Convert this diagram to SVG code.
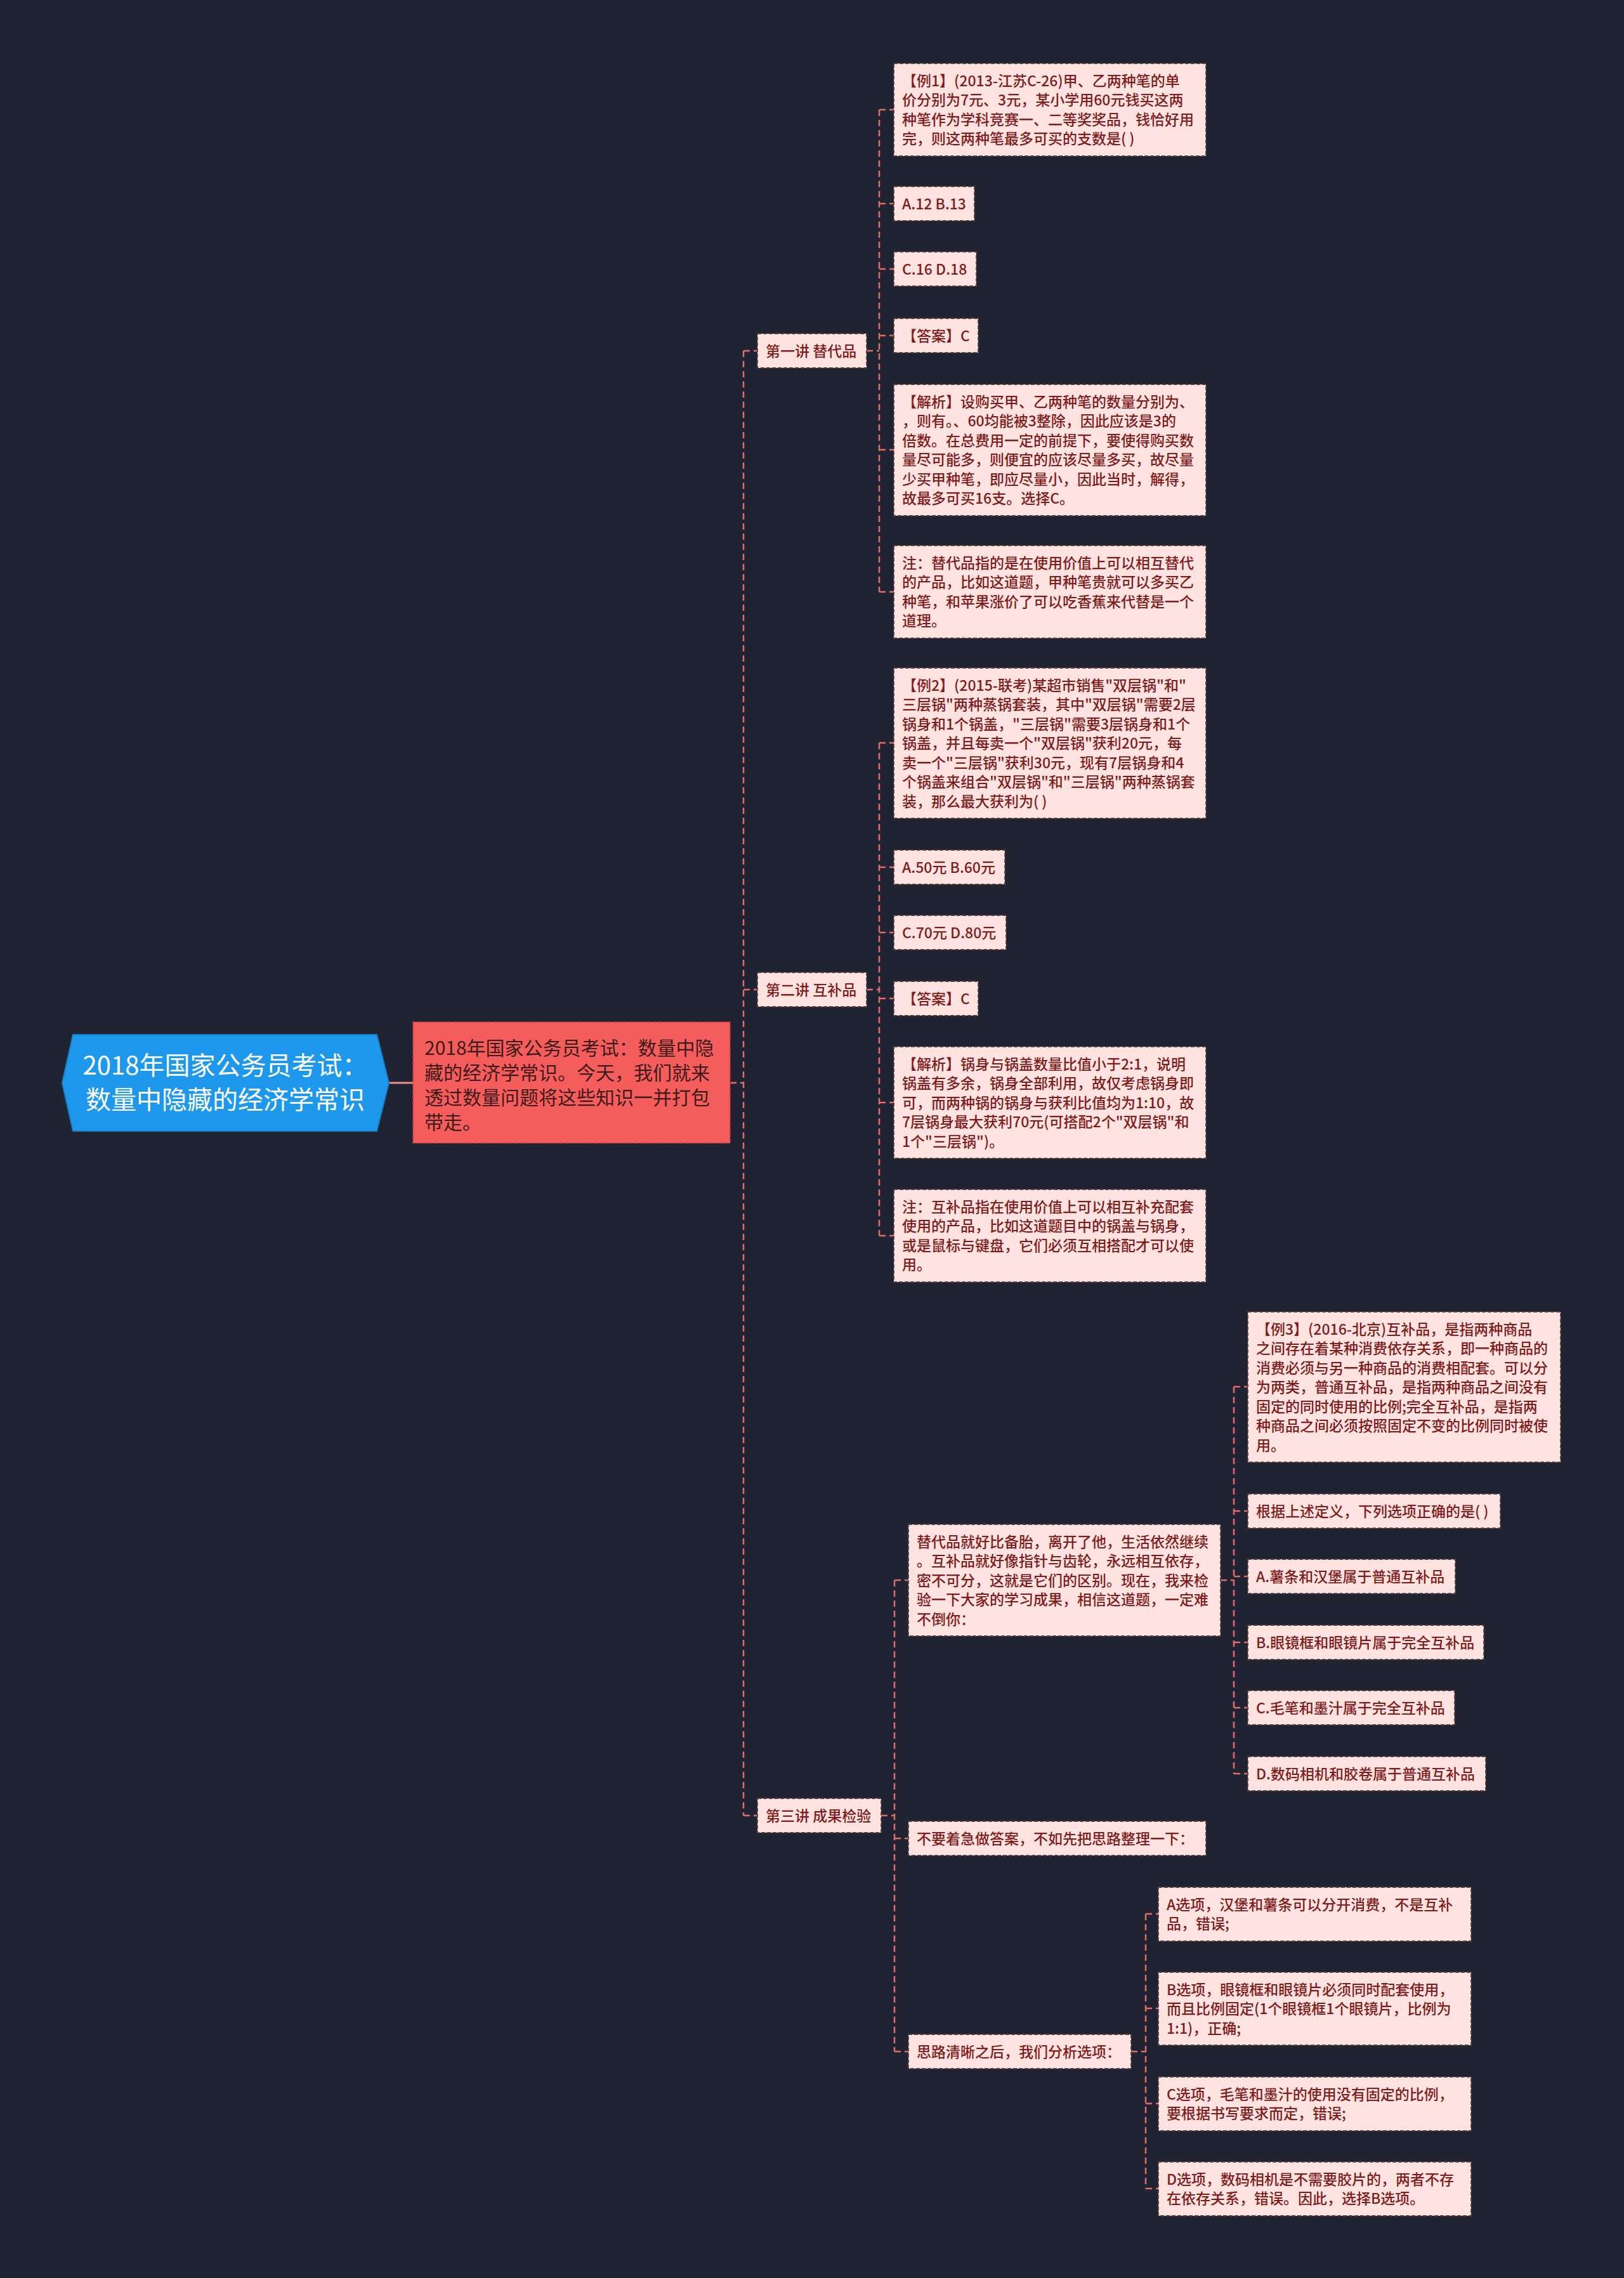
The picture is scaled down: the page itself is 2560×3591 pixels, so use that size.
<svg xmlns="http://www.w3.org/2000/svg" width="2560" height="3591" viewBox="0 0 2560 3591">
<style>
.bg{fill:#202331}
.n rect{fill:#ffe3e1;stroke:#5a3f3f;stroke-width:1.8;stroke-dasharray:6 3}
.n text,.sec text{font-family:"Noto Sans CJK SC","Noto Sans",sans-serif;font-size:23px;font-weight:500;fill:#7f1b1b}
.sec rect{fill:#ffe3e1;stroke:#5a3f3f;stroke-width:1.8;stroke-dasharray:6 3}
.c{fill:none;stroke:#e06c6c;stroke-width:2.5;stroke-dasharray:10 6}
</style>
<rect class="bg" x="0" y="0" width="2560" height="3591"/>

<g id="connectors">
  <line x1="613" y1="1707" x2="651" y2="1707" stroke="#f08a8a" stroke-width="3"/>
  <path class="c" d="M1151,1707 H1172 M1172,553 V2862 M1172,553 H1194 M1172,1560 H1194 M1172,2862 H1194"/>
  <path class="c" d="M1366,553 H1386 M1386,173 V933 M1386,173 H1409 M1386,321 H1409 M1386,424 H1409 M1386,529 H1409 M1386,709 H1409 M1386,933 H1409"/>
  <path class="c" d="M1366,1560 H1386 M1386,1171 V1948 M1386,1171 H1409 M1386,1367 H1409 M1386,1470 H1409 M1386,1574 H1409 M1386,1738 H1409 M1386,1948 H1409"/>
  <path class="c" d="M1389,2862 H1410 M1410,2491 V3234 M1410,2491 H1432 M1410,2898 H1432 M1410,3234 H1432"/>
  <path class="c" d="M1924,2491 H1945 M1945,2186 V2796 M1945,2186 H1967 M1945,2382 H1967 M1945,2485 H1967 M1945,2589 H1967 M1945,2692 H1967 M1945,2796 H1967"/>
  <path class="c" d="M1783,3234 H1806 M1806,3017 V3450 M1806,3017 H1826 M1806,3166 H1826 M1806,3316 H1826 M1806,3450 H1826"/>
</g>

<g id="root">
  <polygon points="98,1707 115,1631 594,1631 613,1707 594,1783 115,1783" fill="#1d98ec" stroke="#1580c8" stroke-width="2"/>
  <text x="355" y="1694" text-anchor="middle" font-family="Noto Sans CJK SC, Noto Sans, sans-serif" font-size="40" fill="#ffffff">2018年国家公务员考试：</text>
  <text x="355" y="1748" text-anchor="middle" font-family="Noto Sans CJK SC, Noto Sans, sans-serif" font-size="40" fill="#ffffff">数量中隐藏的经济学常识</text>
</g>

<g id="intro">
  <rect x="651" y="1611" width="500" height="191" fill="#f55d5d" stroke="#b83a3a" stroke-width="1.6" stroke-dasharray="6 3"/>
  <text font-family="Noto Sans CJK SC, Noto Sans, sans-serif" font-size="30" fill="#3d1a1a">
    <tspan x="669" y="1663">2018年国家公务员考试：数量中隐</tspan>
    <tspan x="669" y="1702">藏的经济学常识。今天，我们就来</tspan>
    <tspan x="669" y="1741">透过数量问题将这些知识一并打包</tspan>
    <tspan x="669" y="1780">带走。</tspan>
  </text>
</g>

<g id="sec1" class="sec"><rect x="1194" y="526" width="172" height="54"/><text x="1207" y="562">第一讲 替代品</text></g>
<g id="sec2" class="sec"><rect x="1194" y="1533" width="172" height="54"/><text x="1207" y="1569">第二讲 互补品</text></g>
<g id="sec3" class="sec"><rect x="1194" y="2835" width="195" height="54"/><text x="1207" y="2871">第三讲 成果检验</text></g>

<g id="s1-ex" class="n"><rect x="1409" y="100" width="492" height="146"/><text>
<tspan x="1422" y="135.5">【例1】(2013-江苏C-26)甲、乙两种笔的单</tspan>
<tspan x="1422" y="166">价分别为7元、3元，某小学用60元钱买这两</tspan>
<tspan x="1422" y="196.5">种笔作为学科竞赛一、二等奖奖品，钱恰好用</tspan>
<tspan x="1422" y="227">完，则这两种笔最多可买的支数是( )</tspan></text></g>
<g id="s1-ab" class="n"><rect x="1409" y="294" width="127" height="54"/><text x="1422" y="329.5">A.12 B.13</text></g>
<g id="s1-cd" class="n"><rect x="1409" y="397" width="130" height="54"/><text x="1422" y="432.5">C.16 D.18</text></g>
<g id="s1-ans" class="n"><rect x="1409" y="502" width="133" height="54"/><text x="1422" y="537.5">【答案】C</text></g>
<g id="s1-an" class="n"><rect x="1409" y="606" width="492" height="207"/><text>
<tspan x="1422" y="641.5">【解析】设购买甲、乙两种笔的数量分别为、</tspan>
<tspan x="1422" y="672">，则有。、60均能被3整除，因此应该是3的</tspan>
<tspan x="1422" y="702.5">倍数。在总费用一定的前提下，要使得购买数</tspan>
<tspan x="1422" y="733">量尽可能多，则便宜的应该尽量多买，故尽量</tspan>
<tspan x="1422" y="763.5">少买甲种笔，即应尽量小，因此当时，解得，</tspan>
<tspan x="1422" y="794">故最多可买16支。选择C。</tspan></text></g>
<g id="s1-note" class="n"><rect x="1409" y="860" width="492" height="146"/><text>
<tspan x="1422" y="895.5">注：替代品指的是在使用价值上可以相互替代</tspan>
<tspan x="1422" y="926">的产品，比如这道题，甲种笔贵就可以多买乙</tspan>
<tspan x="1422" y="956.5">种笔，和苹果涨价了可以吃香蕉来代替是一个</tspan>
<tspan x="1422" y="987">道理。</tspan></text></g>

<g id="s2-ex" class="n"><rect x="1409" y="1053" width="492" height="237"/><text>
<tspan x="1422" y="1088.5">【例2】(2015-联考)某超市销售"双层锅"和"</tspan>
<tspan x="1422" y="1119">三层锅"两种蒸锅套装，其中"双层锅"需要2层</tspan>
<tspan x="1422" y="1149.5">锅身和1个锅盖，"三层锅"需要3层锅身和1个</tspan>
<tspan x="1422" y="1180">锅盖，并且每卖一个"双层锅"获利20元，每</tspan>
<tspan x="1422" y="1210.5">卖一个"三层锅"获利30元，现有7层锅身和4</tspan>
<tspan x="1422" y="1241">个锅盖来组合"双层锅"和"三层锅"两种蒸锅套</tspan>
<tspan x="1422" y="1271.5">装，那么最大获利为( )</tspan></text></g>
<g id="s2-ab" class="n"><rect x="1409" y="1340" width="175" height="54"/><text x="1422" y="1375.5">A.50元 B.60元</text></g>
<g id="s2-cd" class="n"><rect x="1409" y="1443" width="177" height="54"/><text x="1422" y="1478.5">C.70元 D.80元</text></g>
<g id="s2-ans" class="n"><rect x="1409" y="1547" width="133" height="54"/><text x="1422" y="1582.5">【答案】C</text></g>
<g id="s2-an" class="n"><rect x="1409" y="1650" width="492" height="176"/><text>
<tspan x="1422" y="1685.5">【解析】锅身与锅盖数量比值小于2:1，说明</tspan>
<tspan x="1422" y="1716">锅盖有多余，锅身全部利用，故仅考虑锅身即</tspan>
<tspan x="1422" y="1746.5">可，而两种锅的锅身与获利比值均为1:10，故</tspan>
<tspan x="1422" y="1777">7层锅身最大获利70元(可搭配2个"双层锅"和</tspan>
<tspan x="1422" y="1807.5">1个"三层锅")。</tspan></text></g>
<g id="s2-note" class="n"><rect x="1409" y="1875" width="492" height="146"/><text>
<tspan x="1422" y="1910.5">注：互补品指在使用价值上可以相互补充配套</tspan>
<tspan x="1422" y="1941">使用的产品，比如这道题目中的锅盖与锅身，</tspan>
<tspan x="1422" y="1971.5">或是鼠标与键盘，它们必须互相搭配才可以使</tspan>
<tspan x="1422" y="2002">用。</tspan></text></g>

<g id="s3-intro" class="n"><rect x="1432" y="2403" width="492" height="176"/><text>
<tspan x="1445" y="2438.5">替代品就好比备胎，离开了他，生活依然继续</tspan>
<tspan x="1445" y="2469">。互补品就好像指针与齿轮，永远相互依存，</tspan>
<tspan x="1445" y="2499.5">密不可分，这就是它们的区别。现在，我来检</tspan>
<tspan x="1445" y="2530">验一下大家的学习成果，相信这道题，一定难</tspan>
<tspan x="1445" y="2560.5">不倒你：</tspan></text></g>
<g id="s3-ex" class="n"><rect x="1967" y="2068" width="493" height="237"/><text>
<tspan x="1980" y="2103.5">【例3】(2016-北京)互补品，是指两种商品</tspan>
<tspan x="1980" y="2134">之间存在着某种消费依存关系，即一种商品的</tspan>
<tspan x="1980" y="2164.5">消费必须与另一种商品的消费相配套。可以分</tspan>
<tspan x="1980" y="2195">为两类，普通互补品，是指两种商品之间没有</tspan>
<tspan x="1980" y="2225.5">固定的同时使用的比例;完全互补品，是指两</tspan>
<tspan x="1980" y="2256">种商品之间必须按照固定不变的比例同时被使</tspan>
<tspan x="1980" y="2286.5">用。</tspan></text></g>
<g id="s3-q" class="n"><rect x="1967" y="2355" width="398" height="54"/><text x="1980" y="2390.5">根据上述定义，下列选项正确的是( )</text></g>
<g id="s3-a" class="n"><rect x="1967" y="2458" width="327" height="54"/><text x="1980" y="2493.5">A.薯条和汉堡属于普通互补品</text></g>
<g id="s3-b" class="n"><rect x="1967" y="2562" width="372" height="54"/><text x="1980" y="2597.5">B.眼镜框和眼镜片属于完全互补品</text></g>
<g id="s3-c" class="n"><rect x="1967" y="2665" width="326" height="54"/><text x="1980" y="2700.5">C.毛笔和墨汁属于完全互补品</text></g>
<g id="s3-d" class="n"><rect x="1967" y="2769" width="375" height="54"/><text x="1980" y="2804.5">D.数码相机和胶卷属于普通互补品</text></g>
<g id="s3-wait" class="n"><rect x="1432" y="2871" width="469" height="54"/><text x="1445" y="2906.5">不要着急做答案，不如先把思路整理一下：</text></g>
<g id="s3-think" class="n"><rect x="1432" y="3207" width="351" height="54"/><text x="1445" y="3242.5">思路清晰之后，我们分析选项：</text></g>
<g id="s3-oa" class="n"><rect x="1826" y="2975" width="493" height="85"/><text>
<tspan x="1839" y="3010.5">A选项，汉堡和薯条可以分开消费，不是互补</tspan>
<tspan x="1839" y="3041">品，错误;</tspan></text></g>
<g id="s3-ob" class="n"><rect x="1826" y="3109" width="493" height="115"/><text>
<tspan x="1839" y="3144.5">B选项，眼镜框和眼镜片必须同时配套使用，</tspan>
<tspan x="1839" y="3175">而且比例固定(1个眼镜框1个眼镜片，比例为</tspan>
<tspan x="1839" y="3205.5">1:1)，正确;</tspan></text></g>
<g id="s3-oc" class="n"><rect x="1826" y="3274" width="493" height="85"/><text>
<tspan x="1839" y="3309.5">C选项，毛笔和墨汁的使用没有固定的比例，</tspan>
<tspan x="1839" y="3340">要根据书写要求而定，错误;</tspan></text></g>
<g id="s3-od" class="n"><rect x="1826" y="3408" width="493" height="85"/><text>
<tspan x="1839" y="3443.5">D选项，数码相机是不需要胶片的，两者不存</tspan>
<tspan x="1839" y="3474">在依存关系，错误。因此，选择B选项。</tspan></text></g>
</svg>
